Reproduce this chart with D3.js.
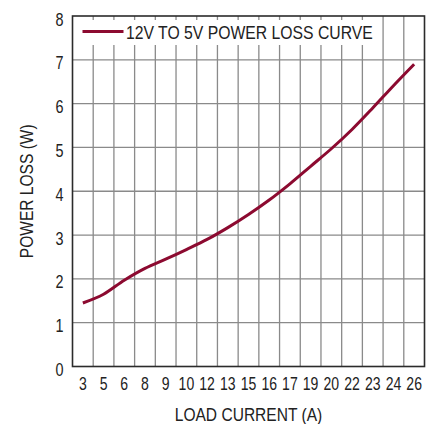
<!DOCTYPE html>
<html>
<head>
<meta charset="utf-8">
<script src="https://cdn.jsdelivr.net/npm/d3@7"></script>
<style>
  html, body { margin: 0; padding: 0; background: #fff; }
  text { font-family: "Liberation Sans", Arial, sans-serif; fill: #222; }
</style>
</head>
<body>
<svg width="435" height="424"></svg>
<script>
// load current labels (one per column)
const currents = ["3", "5", "6", "8", "9", "10", "12", "13", "15", "16", "17", "19", "20", "22", "23", "24", "26"];
// power loss (W) read at each column centre
const powerLoss = [1.45, 1.65, 1.97, 2.24, 2.45, 2.67, 2.90, 3.17, 3.47, 3.80, 4.17, 4.57, 4.97, 5.41, 5.90, 6.41, 6.90];
const yTicks = [0, 1, 2, 3, 4, 5, 6, 7, 8];

const data = currents.map((c, i) => ({ c, v: powerLoss[i] }));

const svg = d3.select("svg");
const width = 435, height = 424;
const margin = { top: 16, right: 10.5, bottom: 57.5, left: 72.5 };

const x = d3.scaleBand()
  .domain(currents)
  .range([margin.left, width - margin.right])
  .padding(0);

const y = d3.scaleLinear()
  .domain([0, 8])
  .range([height - margin.bottom, margin.top]);

// condensed text: no narrow font installed, so squeeze horizontally
function label(g, tx, ty, str, anchor, sx, rot) {
  return g.append("text")
    .attr("transform", `translate(${tx},${ty})${rot ? " rotate(-90)" : ""} scale(${sx},1)`)
    .attr("text-anchor", anchor)
    .style("font-size", "18px")
    .text(str);
}

// --- grid ---
const grid = svg.append("g")
  .attr("stroke", "#8a8a8a")
  .attr("stroke-width", 1.3);

grid.selectAll("line.v")
  .data(currents.slice(1))
  .enter().append("line")
  .attr("x1", d => x(d)).attr("x2", d => x(d))
  .attr("y1", y(8)).attr("y2", y(0));

grid.selectAll("line.h")
  .data(yTicks.slice(1, -1))
  .enter().append("line")
  .attr("x1", x.range()[0]).attr("x2", x.range()[1])
  .attr("y1", d => y(d)).attr("y2", d => y(d));

// --- legend box (covers grid) ---
svg.append("rect")
  .attr("x", margin.left + 1.5)
  .attr("y", 20)
  .attr("width", 300)
  .attr("height", 25)
  .attr("fill", "#fff");

// --- frame ---
svg.append("rect")
  .attr("x", x.range()[0])
  .attr("y", y(8))
  .attr("width", x.range()[1] - x.range()[0])
  .attr("height", y(0) - y(8))
  .attr("fill", "none")
  .attr("stroke", "#2b2b2b")
  .attr("stroke-width", 1.6);

// --- tick labels ---
yTicks.forEach(d => label(svg, 63.5, y(d) + 9.5, d, "end", 0.8));
currents.forEach(d => label(svg, x(d) + x.bandwidth() / 2, 390, d, "middle", 0.78));

// --- curve ---
const line = d3.line()
  .x(d => x(d.c) + x.bandwidth() / 2)
  .y(d => y(d.v))
  .curve(d3.curveCatmullRom.alpha(0.5));

svg.append("path")
  .datum(data)
  .attr("d", line)
  .attr("fill", "none")
  .attr("stroke", "#8c0a30")
  .attr("stroke-width", 3);

// --- legend ---
svg.append("line")
  .attr("x1", 82.5).attr("x2", 123.5)
  .attr("y1", 31.5).attr("y2", 31.5)
  .attr("stroke", "#8c0a30")
  .attr("stroke-width", 3);

label(svg, 126, 38.5, "12V TO 5V POWER LOSS CURVE", "start", 0.875);

// --- axis titles ---
label(svg, (x.range()[0] + x.range()[1]) / 2, 421, "LOAD CURRENT (A)", "middle", 0.865);
label(svg, 33, (y(0) + y(8)) / 2, "POWER LOSS (W)", "middle", 0.865, true);
</script>
</body>
</html>
